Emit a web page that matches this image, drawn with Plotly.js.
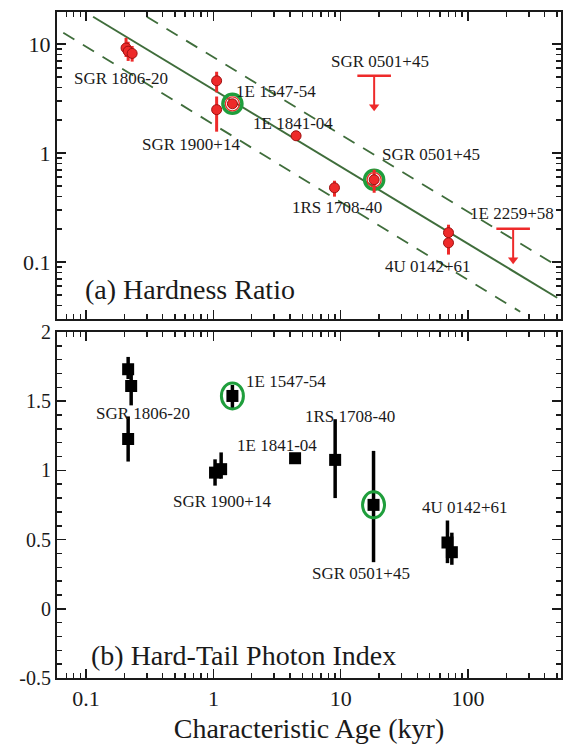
<!DOCTYPE html>
<html><head><meta charset="utf-8">
<script src="https://cdn.plot.ly/plotly-3.0.1.min.js"></script>
<style>html,body{margin:0;padding:0;background:#fff}#chart{width:565px;height:749px}</style>
</head><body><div id="chart"></div>
<script>
// ---------------- Panel (a): Hardness Ratio ----------------
const hrAge = [0.206, 0.214, 0.230, 1.06, 1.06, 1.41, 4.46, 8.93, 18.3, 70.2, 70.2];
const hrVal = [9.2, 8.6, 8.2, 4.6, 2.5, 2.83, 1.44, 0.48, 0.569, 0.186, 0.150];
const hrHi  = [11.4, 10.5, 9.6, 5.57, 3.3, 3.0, 1.44, 0.557, 0.703, 0.22, 0.17];
const hrLo  = [7.6, 7.0, 6.9, 3.6, 1.57, 2.7, 1.44, 0.398, 0.432, 0.165, 0.117];

// upper limits (bar level and arrow head)
const ulNames = ['SGR 0501+45', '1E 2259+58'];
const ulAge = [18.3, 226];
const ulVal = [5.12, 0.202];
const ulTip = [2.66, 0.105];

// best-fit line and factor-of-two band
const fitAge = [0.1135, 501];
const fitHR  = [17.8, 0.047];
const upAge  = [0.300, 501];
const upHR   = [17.8, 0.092];
const loAge  = [0.0662, 257];
const loHR   = [12.7, 0.035];

// highlighted sources (green rings)
const ringAgeA = [1.41, 18.3];
const ringValA = [2.83, 0.569];

// ---------------- Panel (b): Hard-tail photon index ----------------
const ptAge = [0.214, 0.226, 0.214, 1.03, 1.15, 1.41, 4.38, 9.04, 18.1, 68.9, 74.6];
const ptVal = [1.731, 1.61, 1.227, 0.984, 1.009, 1.538, 1.088, 1.076, 0.751, 0.479, 0.409];
const ptHi  = [1.82, 1.70, 1.39, 1.08, 1.13, 1.617, 1.088, 1.37, 1.141, 0.638, 0.55];
const ptLo  = [1.66, 1.47, 1.064, 0.89, 0.94, 1.442, 1.088, 0.80, 0.337, 0.33, 0.318];
const ringAgeB = [1.41, 18.1];
const ringValB = [1.538, 0.751];

// labels
const labelsA = ['SGR 1806-20','1E 1547-54','SGR 1900+14','1E 1841-04','SGR 0501+45','SGR 0501+45','1RS 1708-40','1E 2259+58','4U 0142+61'];
const labelsB = ['1E 1547-54','SGR 1806-20','1E 1841-04','SGR 1900+14','1RS 1708-40','SGR 0501+45','4U 0142+61'];
const xTickVals = [0.1, 1, 10, 100];
const xTickText = ['0.1', '1', '10', '100'];
const yTickValsA = [0.1, 1, 10];
const yTickTextA = ['0.1', '1', '10'];
const yTickValsB = [-0.5, 0, 0.5, 1, 1.5, 2];
const yTickTextB = ['-0.5', '0', '0.5', '1', '1.5', '2'];

// label placement (layout only)
const posA = [[0.188,4.81],[3.11,3.65],[0.668,1.19],[4.23,1.86],[20.4,6.88],[51.3,0.964],[9.37,0.315],[222,0.277],[48.6,0.0905]];
const posB = [[3.73,1.646],[0.280,1.408],[3.17,1.177],[1.17,0.773],[11.9,1.386],[14.5,0.253],[95.0,0.729]];

const RED = '#ee2a2a', DKRED = '#9e1010', GREEN = '#1f9e3c', LINEG = '#3f6d3b', INK = '#1a1a1a';
const FONT = 'Liberation Serif, Times New Roman, serif';

function minorLog(lo, hi) {
  const v = [];
  for (let e = lo; e <= hi; e++) for (let d = 2; d <= 9; d++) v.push(d * Math.pow(10, e));
  return v;
}

const traces = [];
// band lines
traces.push({x: fitAge, y: fitHR, xaxis: 'x2', yaxis: 'y2', mode: 'lines', line: {color: LINEG, width: 2}, hoverinfo: 'skip'});
traces.push({x: upAge, y: upHR, xaxis: 'x2', yaxis: 'y2', mode: 'lines', line: {color: LINEG, width: 1.8, dash: '13px,10px'}, hoverinfo: 'skip'});
traces.push({x: loAge, y: loHR, xaxis: 'x2', yaxis: 'y2', mode: 'lines', line: {color: LINEG, width: 1.8, dash: '13px,10px'}, hoverinfo: 'skip'});
// green rings (a)
traces.push({x: ringAgeA, y: ringValA, xaxis: 'x2', yaxis: 'y2', mode: 'markers',
  marker: {symbol: 'circle-open', size: 19, color: GREEN, line: {width: 3.5, color: GREEN}}});
traces.push({x: ringAgeA, y: ringValA, xaxis: 'x2', yaxis: 'y2', mode: 'markers',
  marker: {symbol: 'circle-open', size: 14, color: RED, line: {width: 1.3, color: RED}}});
// data (a)
traces.push({x: hrAge, y: hrVal, xaxis: 'x2', yaxis: 'y2', mode: 'markers',
  marker: {symbol: 'circle', size: 10, color: RED, line: {width: 1, color: DKRED}},
  error_y: {type: 'data', symmetric: false,
    array: hrHi.map((h, i) => h - hrVal[i]), arrayminus: hrLo.map((l, i) => hrVal[i] - l),
    color: RED, thickness: 3, width: 0}});
// upper limits
const ulLineX = [], ulLineY = [];
ulAge.forEach((a, i) => { ulLineX.push(a, a, null); ulLineY.push(ulVal[i], ulTip[i], null); });
traces.push({x: ulLineX, y: ulLineY, xaxis: 'x2', yaxis: 'y2', mode: 'lines', line: {color: RED, width: 2}});
traces.push({x: ulAge, y: ulVal, xaxis: 'x2', yaxis: 'y2', mode: 'markers',
  marker: {symbol: 'line-ew', size: 24, color: RED, line: {width: 2.5, color: RED}}});
traces.push({x: ulAge, y: ulTip, xaxis: 'x2', yaxis: 'y2', mode: 'markers',
  marker: {symbol: 'triangle-down', size: 9, color: RED, line: {width: 0}}});

// data (b)
traces.push({x: ptAge, y: ptVal, xaxis: 'x', yaxis: 'y', mode: 'markers',
  marker: {symbol: 'square', size: 12, color: '#000'},
  error_y: {type: 'data', symmetric: false,
    array: ptHi.map((h, i) => h - ptVal[i]), arrayminus: ptVal.map((v, i) => v - ptLo[i]),
    color: '#000', thickness: 3.5, width: 0}});

// ellipses around highlighted sources in (b): half-width of ~11 px on a 127.3 px/decade axis
const halfDec = 11 / 127.3;
const shapes = ringAgeB.map((a, i) => ({
  type: 'circle', xref: 'x', yref: 'y', xsizemode: 'scaled', ysizemode: 'pixel',
  yanchor: ringValB[i], x0: a * Math.pow(10, -halfDec), x1: a * Math.pow(10, halfDec), y0: -13, y1: 13,
  line: {color: GREEN, width: 3}
}));

const annotations = [];
labelsA.forEach((t, i) => annotations.push({text: t, xref: 'x2', yref: 'y2',
  x: Math.log10(posA[i][0]), y: Math.log10(posA[i][1]), showarrow: false,
  xanchor: 'center', yanchor: 'middle', font: {family: FONT, size: 17, color: INK}}));
labelsB.forEach((t, i) => annotations.push({text: t, xref: 'x', yref: 'y',
  x: Math.log10(posB[i][0]), y: posB[i][1], showarrow: false,
  xanchor: 'center', yanchor: 'middle', font: {family: FONT, size: 17, color: INK}}));
annotations.push({text: '(a) Hardness Ratio', xref: 'x2 domain', yref: 'y2 domain', x: 0.052, y: 0.095,
  xanchor: 'left', yanchor: 'middle', showarrow: false, font: {family: FONT, size: 28, color: INK}});
annotations.push({text: '(b) Hard-Tail Photon Index', xref: 'x domain', yref: 'y domain', x: 0.063, y: 0.064,
  xanchor: 'left', yanchor: 'middle', showarrow: false, font: {family: FONT, size: 28, color: INK}});

const xRange = [Math.log10(0.0591), Math.log10(537)];
const axBase = {showline: true, linewidth: 2, linecolor: INK, mirror: 'allticks', ticks: 'inside',
  ticklen: 9, tickwidth: 1.5, tickcolor: INK, showgrid: false, zeroline: false};

const layout = {
  width: 565, height: 749,
  margin: {l: 57, r: 4, t: 12, b: 71},
  paper_bgcolor: '#fff', plot_bgcolor: '#fff', showlegend: false,
  font: {family: FONT, color: INK},
  xaxis: Object.assign({}, axBase, {type: 'log', range: xRange, anchor: 'y', domain: [0, 1],
    tickmode: 'array', tickvals: xTickVals, ticktext: xTickText, tickfont: {size: 22, family: FONT},
    minor: {tickmode: 'array', tickvals: minorLog(-2, 2), ticks: 'inside', ticklen: 5, tickwidth: 1.5, tickcolor: INK, showgrid: false},
    title: {text: 'Characteristic Age (kyr)', font: {size: 28, family: FONT}, standoff: 8}}),
  xaxis2: Object.assign({}, axBase, {type: 'log', range: xRange, anchor: 'y2', domain: [0, 1],
    tickmode: 'array', tickvals: xTickVals, showticklabels: false,
    minor: {tickmode: 'array', tickvals: minorLog(-2, 2), ticks: 'inside', ticklen: 5, tickwidth: 1.5, tickcolor: INK, showgrid: false}}),
  yaxis: Object.assign({}, axBase, {range: [-0.5, 2], anchor: 'x', domain: [0, 0.5195],
    tickmode: 'array', tickvals: yTickValsB, ticktext: yTickTextB, tickfont: {size: 20, family: FONT},
    minor: {dtick: 0.1, ticks: 'inside', ticklen: 5, tickwidth: 1.5, tickcolor: INK, showgrid: false}}),
  yaxis2: Object.assign({}, axBase, {type: 'log', range: [-1.523, 1.294], anchor: 'x2', domain: [0.539, 1],
    tickmode: 'array', tickvals: yTickValsA, ticktext: yTickTextA, tickfont: {size: 22, family: FONT},
    minor: {tickmode: 'array', tickvals: minorLog(-2, 1), ticks: 'inside', ticklen: 5, tickwidth: 1.5, tickcolor: INK, showgrid: false}}),
  shapes: shapes,
  annotations: annotations
};

Plotly.newPlot('chart', traces, layout, {staticPlot: true, displayModeBar: false});
</script>
</body></html>
